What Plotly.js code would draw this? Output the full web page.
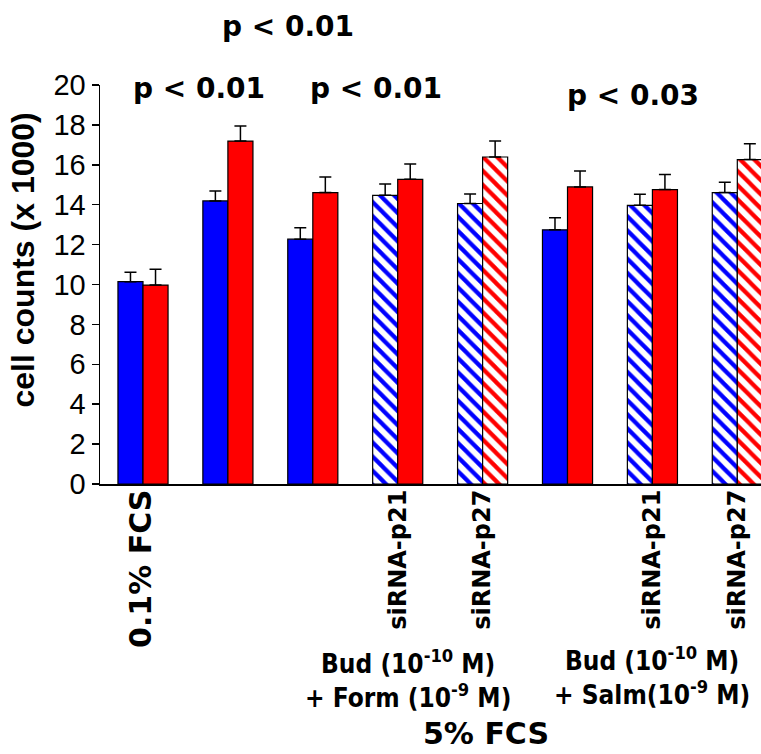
<!DOCTYPE html>
<html>
<head>
<meta charset="utf-8">
<script src="https://cdn.plot.ly/plotly-3.0.1.min.js"></script>
<style>html,body{margin:0;padding:0;background:#fff;}#chart{width:761px;height:754px;}</style>
</head>
<body>
<div id="chart"></div>
<script>
// ---- data ----
var groups = [0, 1, 2, 3, 4, 5, 6, 7];
var blueValues = [10.14, 14.19, 12.27, 14.47, 14.06, 12.74, 13.97, 14.61];
var blueErrors = [0.48, 0.50, 0.57, 0.57, 0.48, 0.60, 0.55, 0.51];
var redValues  = [9.97, 17.19, 14.61, 15.27, 16.39, 14.89, 14.76, 16.26];
var redErrors  = [0.80, 0.75, 0.78, 0.77, 0.80, 0.80, 0.76, 0.80];
var blueHatch = ['', '', '', '\\', '\\', '', '\\', '\\'];
var redHatch  = ['', '', '', '', '\\', '', '', '\\'];
var tickPositions = [0, 3, 4, 6, 7];
var tickLabels = ['0.1% FCS', 'siRNA-p21', 'siRNA-p27', 'siRNA-p21', 'siRNA-p27'];
var yTicks = [0, 2, 4, 6, 8, 10, 12, 14, 16, 18, 20];
var pLabels = ['p < 0.01', 'p < 0.01', 'p < 0.01', 'p < 0.03'];
var pLabelX = [1.71, 0.654, 2.75, 5.77];
var pLabelY = [1.146, 0.992, 0.992, 0.974];
var groupLabels = ['Bud (10<sup>-10</sup> M)<br>+ Form (10<sup>-9</sup> M)',
                   'Bud (10<sup>-10</sup> M)<br>+ Salm(10<sup>-9</sup> M)'];
var groupLabelX = [3.12, 6.0];
var groupLabelY = [-0.4875, -0.4800];
var bottomTitle = '5% FCS';
var yTitle = 'cell counts (x 1000)';

var BLUE = '#0000ff', RED = '#ff0000';
var boldFont = 'DejaVu Sans, Verdana, sans-serif';

function barTrace(vals, errs, color, hatch) {
  return {
    type: 'bar', x: groups, y: vals,
    marker: {
      color: color,
      line: {color: '#000', width: 1.2},
      pattern: {shape: hatch, fgcolor: color, bgcolor: '#ffffff', fgopacity: 1,
                size: 10, solidity: 0.42, fillmode: 'replace'}
    },
    error_y: {type: 'data', symmetric: false, array: errs, arrayminus: errs.map(function(){return 0;}),
              color: '#000', thickness: 1.5, width: 6},
    showlegend: false, hoverinfo: 'skip'
  };
}

var data = [barTrace(blueValues, blueErrors, BLUE, blueHatch),
            barTrace(redValues, redErrors, RED, redHatch)];

var annotations = [];
pLabels.forEach(function (t, i) {
  annotations.push({text: '<b>' + t + '</b>', x: pLabelX[i], y: pLabelY[i], xref: 'x', yref: 'paper',
    showarrow: false, xanchor: 'center', yanchor: 'middle',
    font: {family: boldFont, size: 28, color: '#000'}});
});
groupLabels.forEach(function (t, i) {
  annotations.push({text: '<b>' + t + '</b>', x: groupLabelX[i], y: groupLabelY[i], xref: 'x', yref: 'paper',
    showarrow: false, xanchor: 'center', yanchor: 'middle', align: 'center', borderpad: 0,
    font: {family: 'DejaVu Sans Condensed, DejaVu Sans, sans-serif', size: 26, color: '#000'}});
});
annotations.push({text: '<b>' + bottomTitle + '</b>', x: 4.04, y: -0.625, xref: 'x', yref: 'paper',
  showarrow: false, xanchor: 'center', yanchor: 'middle', borderpad: 0,
  font: {family: boldFont, size: 30, color: '#000'}});
annotations.push({text: '<b>' + yTitle + '</b>', x: -0.116, y: 0.561, xref: 'paper', yref: 'paper',
  showarrow: false, xanchor: 'center', yanchor: 'middle', textangle: -90,
  font: {family: 'Liberation Sans, Arial, sans-serif', size: 32, color: '#000'}});

var ticktext = tickLabels.map(function (t, i) {
  return i === 0 ? '<b><span style="font-size:30px">' + t + '</span></b>' : '<b>' + t + '</b>';
});

var layout = {
  width: 761, height: 754,
  margin: {l: 100, r: 0, t: 85, b: 270},
  paper_bgcolor: '#fff', plot_bgcolor: '#fff',
  barmode: 'group', bargap: 0.41, bargroupgap: 0,
  xaxis: {
    range: [-0.5065, 7.279], tickvals: tickPositions, ticktext: ticktext, tickangle: -90,
    showline: true, linecolor: '#000', linewidth: 2, ticks: '', showgrid: false, zeroline: false,
    ticklabelstandoff: -6,
    tickfont: {family: boldFont, size: 24, color: '#000'}
  },
  yaxis: {
    range: [0, 20], tickvals: yTicks, ticks: 'outside', ticklen: 7, tickwidth: 1.5, tickcolor: '#000',
    showline: true, linecolor: '#000', linewidth: 1.5, showgrid: false, zeroline: false,
    tickfont: {family: 'Liberation Sans, Arial, sans-serif', size: 29, color: '#000'}
  },
  shapes: [{type: 'line', xref: 'paper', yref: 'y', x0: 0, x1: 0, y0: 0, y1: -0.3,
            line: {color: '#000', width: 1.5}}],
  annotations: annotations
};

Plotly.newPlot('chart', data, layout, {staticPlot: true, displayModeBar: false});
</script>
</body>
</html>
